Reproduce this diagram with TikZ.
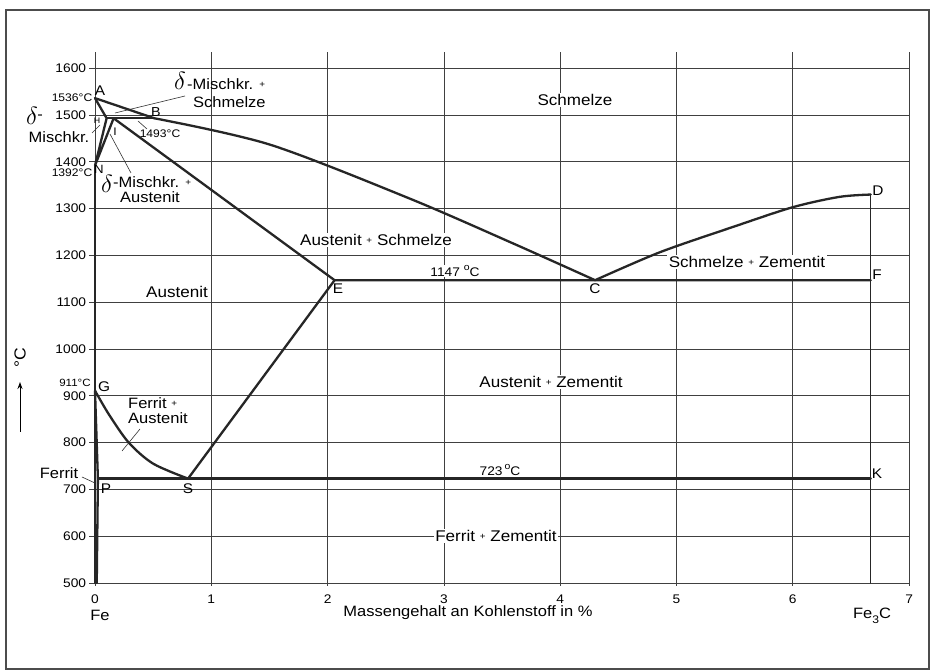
\documentclass[tikz,border=0pt]{standalone}
\usepackage{fontspec}
\setmainfont{Liberation Sans}[FakeStretch=1.1]
\usetikzlibrary{arrows.meta}
\newcommand{\fsz}[1]{\fontsize{#1}{#1}\selectfont}
\newcommand{\smallplus}{\raisebox{0.15em}{\fsz{9}+}}
\begin{document}
\begin{tikzpicture}[x=1pt,y=1pt,
 phase/.style={line width=2.3pt,line join=round,line cap=round,black!85},
 gridl/.style={line width=0.8pt,black!75},
 leader/.style={line width=0.6pt,black!80},
 ticklab/.style={font=\fsz{12.5},inner sep=0pt},
 region/.style={font=\fsz{15.5},inner sep=1.5pt,fill=white},
 ptlab/.style={font=\fsz{14},inner sep=0pt},
 templab/.style={font=\fsz{11},inner sep=0pt},
 deltalab/.style={font=\fsz{25},inner sep=0pt}]
\useasboundingbox (0,0) rectangle (932,672);
\fill[white] (0,0) rectangle (932,672);
\draw[line width=1.4pt,black!70] (6,3) rectangle (929,662);
\begin{scope}[shift={(95,-145)},x=116.3pt,y=0.468pt]
  \foreach \t in {500,600,...,1600}{
    \draw[gridl] (-0.05,\t) -- (7,\t);
    \node[ticklab,anchor=east] (yl\t) at (-0.075,\t) {\t};}
  \foreach \c in {0,...,7}{
    \draw[gridl] (\c,494) -- (\c,1635);
    \node[ticklab] (xl\c) at (\c,466) {\c};}
  % characteristic points
  \coordinate (A) at (0,1536);
  \coordinate (H) at (0.1,1493);
  \coordinate (J) at (0.16,1493);
  \coordinate (B) at (0.51,1493);
  \coordinate (N) at (0,1392);
  \coordinate (E) at (2.06,1147);
  \coordinate (C) at (4.3,1147);
  \coordinate (F) at (6.67,1147);
  \coordinate (D) at (6.67,1330);
  \coordinate (G) at (0,911);
  \coordinate (S) at (0.8,723);
  \coordinate (P) at (0.025,723);
  \coordinate (K) at (6.67,723);
  \coordinate (Q) at (0.015,500);
  \coordinate (O) at (0,500);
  \coordinate (Kb) at (6.67,500);
  % phase lines
  \draw[phase] (N) -- (O);
  \draw[phase] (A) -- (B);
  \draw[phase] (A) -- (H) -- (N) -- (J);
  \draw[phase] (H) -- (B);
  \draw[phase] (J) -- (E) -- (F);
  \draw[phase] plot[smooth] coordinates {(0.51,1493) (1.5,1437) (2.7,1322) (3.6,1225) (4.3,1147)};
  \draw[phase] plot[smooth] coordinates {(4.3,1147) (4.86,1207) (5.5,1262) (6.0,1303) (6.4,1325) (6.67,1330)};
  \draw[phase,line width=1.4pt] (D) -- (F) -- (K) -- (Kb);
  \draw[phase] (E) -- (S);
  \draw[phase] plot[smooth] coordinates {(0,911) (0.12,860) (0.29,800) (0.5,755) (0.8,723)};
  \draw[phase] (P) -- (K);
  \draw[phase] (G) -- (P) -- (Q);
\end{scope}
% point labels
\node[ptlab] (lA) at (100,581) {A};
\node[ptlab,font=\fsz{8}] (lH) at (97,551) {H};
\node[ptlab,font=\fsz{13}] (lB) at (156,560) {B};
\node[ptlab,font=\fsz{11}] (lJ) at (115,540) {I};
\node[ptlab,font=\fsz{12}] (lN) at (99,503) {N};
\node[ptlab] (lE) at (338,383) {E};
\node[ptlab] (lC) at (595,383) {C};
\node[ptlab] (lD) at (878,481) {D};
\node[ptlab] (lF) at (877,397) {F};
\node[ptlab] (lK) at (877,198) {K};
\node[ptlab] (lG) at (104,285) {G};
\node[ptlab] (lP) at (106,183) {P};
\node[ptlab] (lS) at (188,183) {S};
% temperatures
\node[templab] (t1536) at (72,574) {1536°C};
\node[templab] (t1392) at (72,499) {1392°C};
\node[templab] (t1493) at (160,538) {1493°C};
\node[templab,font=\fsz{10.5}] (t911) at (75,289) {911°C};
\node[templab,font=\fsz{12.5},fill=white,inner sep=1pt] (t1147) at (455,401) {1147 \raisebox{0.45em}{\fsz{9.5}o}C};
\node[templab,font=\fsz{12.5}] (t723) at (500,202) {723\,\raisebox{0.45em}{\fsz{9.5}o}C};
% delta labels
\node[deltalab,font=\fsz{23}] (dl) at (32,556) {$\delta$};
\node[ptlab,font=\fsz{15}] (dlm) at (40,555) {-};
\node[ptlab,font=\fsz{15}] (mk) at (59,535) {Mischkr.};
\node[deltalab] (dt) at (180,591) {$\delta$};
\node[ptlab,font=\fsz{15},anchor=west] (dt1) at (187,588) {-Mischkr. \smallplus};
\node[ptlab,font=\fsz{15},anchor=west] (dt2) at (193,570) {Schmelze};
\node[deltalab] (db) at (107,488) {$\delta$};
\node[ptlab,font=\fsz{15},anchor=west] (db1) at (113,490) {-Mischkr. \smallplus};
\node[ptlab,font=\fsz{15}] (db2) at (150,475) {Austenit};
% regions
\node[region] (rS) at (575,572) {Schmelze};
\node[region] (rAS) at (376,432) {Austenit \smallplus{} Schmelze};
\node[region] (rSZ) at (747,410) {Schmelze \smallplus{} Zementit};
\node[region] (rA) at (177,380) {Austenit};
\node[region] (rAZ) at (551,290) {Austenit \smallplus{} Zementit};
\node[region] (rFZ) at (496,136) {Ferrit \smallplus{} Zementit};
\node[ptlab,font=\fsz{15},anchor=west] (rFA1) at (128,269) {Ferrit \smallplus};
\node[ptlab,font=\fsz{15},anchor=west] (rFA2) at (128,254) {Austenit};
\node[ptlab,font=\fsz{15}] (rF) at (59,199) {Ferrit};
% leaders
\coordinate (a1) at (138,551); \coordinate (a2) at (147,543);
\draw[leader] (a1) -- (a2);
\coordinate (b1) at (185,576); \coordinate (b2) at (115,559);
\draw[leader] (b1) -- (b2);
\coordinate (c1) at (92,539); \coordinate (c2) at (100,547);
\draw[leader] (c1) -- (c2);
\coordinate (d1) at (131,499); \coordinate (d2) at (110,538);
\draw[leader] (d1) -- (d2);
\coordinate (e1) at (140,243); \coordinate (e2) at (122,221);
\draw[leader] (e1) -- (e2);
\coordinate (f1) at (82,195); \coordinate (f2) at (95,189);
\draw[leader] (f1) -- (f2);
% axis labels
\node[ptlab,font=\fsz{15}] (xlab) at (468,59) {Massengehalt an Kohlenstoff in \%};
\node[ptlab,font=\fsz{15}] (fe) at (100,57) {Fe};
\node[ptlab,font=\fsz{15}] (fe3c) at (872,56) {Fe\raisebox{-0.35em}{\fsz{11}3}C};
\coordinate (ar1) at (20,240); \coordinate (ar2) at (20,290);
\draw[line width=0.9pt,-{Stealth[length=7pt,width=5pt]}] (ar1) -- (ar2);
\node[ptlab,font=\fsz{16},rotate=90] (degc) at (20,314) {°C};
\end{tikzpicture}
\end{document}
